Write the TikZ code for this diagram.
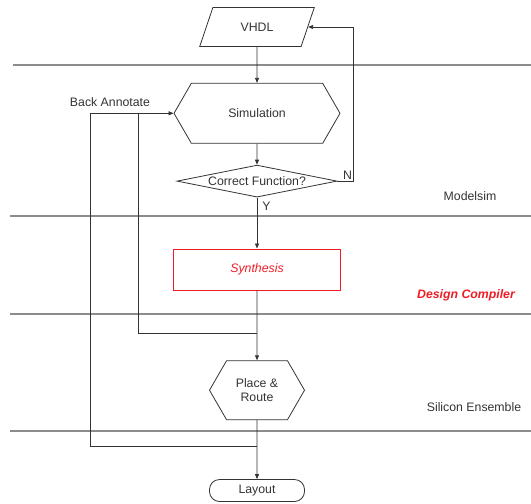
\documentclass[tikz,border=0pt]{standalone}
\usepackage{fontspec}
\setmainfont{Liberation Sans}
\usetikzlibrary{arrows.meta,positioning,calc,shapes.geometric,shapes.symbols}
\definecolor{ink}{HTML}{333333}
\definecolor{lanegray}{HTML}{8C8C8C}
\definecolor{synred}{HTML}{EE1C25}

\begin{document}
\begin{tikzpicture}[x=1pt,y=-1pt,>={Triangle[length=5pt,width=4pt]},
  every node/.style={font=\fontsize{12.3}{14}\selectfont, text=ink},
  shape box/.style={draw=ink, line width=0.8pt, inner sep=0pt},
  iobox/.style={shape box, trapezium, trapezium left angle=60, trapezium right angle=120,
    trapezium stretches=true, minimum width=115pt, minimum height=39pt},
  procbox/.style={shape box, signal, signal to=west and east, signal pointer angle=120},
  choice/.style={shape box, diamond, aspect=5, minimum width=160pt, minimum height=32pt},
  conn/.style={draw=ink, line width=0.8pt},
  lane/.style={draw=lanegray, line width=1.3pt}]
\useasboundingbox (0,0) rectangle (531,504);

% tool lanes
\draw[lane] (13,65) -- (531,65);
\draw[lane] (10,216) -- (531,216);
\draw[lane] (10,314) -- (531,314);
\draw[lane] (10,431) -- (531,431);
\node (modelsim) at (470,196) {Modelsim};
\node (dc) at (466,295) [text=synred, font=\fontsize{12.3}{14}\selectfont\bfseries\itshape] {Design Compiler};
\node (se) at (474,407) {Silicon Ensemble};

% flow
\node (vhdl) at (257,27) [iobox] {VHDL};
\node (sim) [procbox, below=36pt of vhdl, minimum width=166pt, minimum height=60pt] {Simulation};
\node (check) [choice, below=21pt of sim] {Correct Function?};
\node (synth) [shape box, draw=synred, below=51pt of check, minimum width=167pt, minimum height=41pt,
  text=synred, font=\fontsize{12.3}{14}\selectfont\itshape] {Synthesis};
\node (pr) [procbox, below=70pt of synth, minimum width=95pt, minimum height=59pt, align=center] {Place \&\\Route};
\node (layout) [shape box, rounded corners=10pt, below=59pt of pr, minimum width=95pt, minimum height=22pt] {Layout};

\draw[conn,->] (vhdl) -- (sim);
\draw[conn,->] (sim) -- (check);
\draw[conn,->] (check) -- node[pos=.18, anchor=west, inner sep=5pt] {Y} (synth);
\draw[conn,->] (synth) -- (pr);
\draw[conn,->] (pr) -- (layout);
\draw[conn,->] (check.east) -- node[pos=1, anchor=south east, inner sep=1pt] {N} ++(16,0) |- (vhdl.east);

% back annotation
\node (ba) at (110,102) {Back Annotate};
\coordinate (tap1) at ($(synth.south)+(0,43)$);
\coordinate (tap2) at ($(pr.south)+(0,26)$);
\draw[conn,->] (tap1) -| ($(sim.west)+(-35,0)$) -- (sim.west);
\draw[conn] (tap2) -| ($(sim.west)+(-83,0)$) -- ++(48,0);
\end{tikzpicture}
\end{document}
